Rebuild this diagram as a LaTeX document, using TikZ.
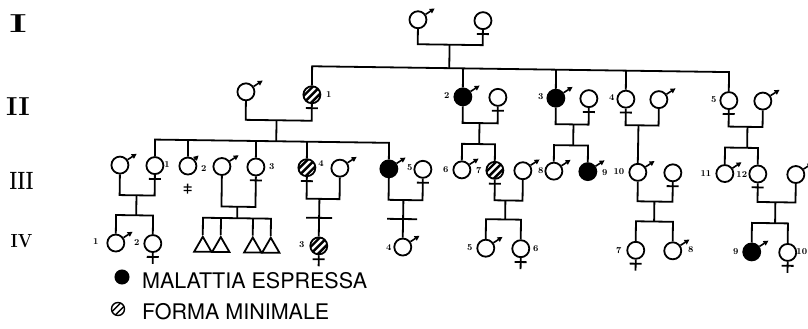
\documentclass[tikz,border=0pt]{standalone}
\usepackage{fontspec}
\newfontfamily\legfont{TeX Gyre Heros}
\usetikzlibrary{arrows.meta,calc,shapes.geometric}
\begin{document}
\begin{tikzpicture}[x=1pt,y=-1pt,
  ln/.style={line width=1.8pt},
  sym/.style={circle, draw, line width=1.8pt, minimum size=17pt, inner sep=0pt, fill=white},
  aff/.style={sym, fill=black},
  mini/.style={sym, path picture={
     \foreach \d in {-3.6,0,3.6}
       \draw[line width=2.4pt, shift={(path picture bounding box.center)}] (-12+\d,12+\d) -- (12+\d,-12+\d);}},
  minil/.style={circle, draw, line width=1.4pt, minimum size=13pt, inner sep=0pt, path picture={
     \foreach \d in {-1.7,1.7}
       \draw[line width=1.4pt, shift={(path picture bounding box.center)}] (-10+\d,10+\d) -- (10+\d,-10+\d);}},
  tri/.style={regular polygon, regular polygon sides=3, draw, line width=1.8pt, minimum size=20pt, inner sep=0pt},
  marrow/.style={line width=1.6pt, -{Triangle[length=5pt,width=5pt]}},
  num/.style={font=\bfseries\fontsize{9}{9}\selectfont, inner sep=0pt},
  gen/.style={font=\bfseries\fontsize{26}{26}\selectfont, inner sep=0pt},
  leg/.style={font=\legfont\fontsize{21.5}{22}\selectfont, anchor=west, inner sep=0pt}
]
\useasboundingbox (0,0) rectangle (808,329);
\clip (0,0) rectangle (808,329);

% generation labels
\node[gen] (gI) at (18,24) {\scalebox{1.6}[1]{I}};
\node[gen] (gII) at (18,107) {\scalebox{1.05}[1]{II}};
\node[gen, font=\bfseries\fontsize{25}{25}\selectfont] (gIII) at (21.5,181) {\scalebox{0.72}[1]{III}};
\node[gen, font=\bfseries\fontsize{19}{19}\selectfont] (gIV) at (21.5,241.5) {\scalebox{0.9}[1]{IV}};

% legend
\node[aff, minimum size=14pt, line width=1pt] (lA) at (122,277) {};
\node[leg] (tA) at (142,280.5) {MALATTIA ESPRESSA};
\node[minil] (lM) at (118,309) {};
\node[leg] (tM) at (142,312) {FORMA MINIMALE};

\begin{scope}[rotate around={-0.8:(400,160)}]
% Gen I
\node[sym] (I1) at (416,19.5) {};
\node[sym] (I2) at (481,19.5) {};
% Gen II
\node[sym] (IIs1) at (245,94) {};
\node[mini] (II1) at (311,96) {};
\node[aff] (II2) at (462,96) {};
\node[sym] (IIs2) at (497,96) {};
\node[aff] (II3) at (555,96) {};
\node[sym] (IIs3) at (588,96) {};
\node[sym] (II4) at (625,96) {};
\node[sym] (IIs4) at (658,96) {};
\node[sym] (II5) at (728,96) {};
\node[sym] (IIs5) at (762,96) {};
% Gen III
\node[sym] (IIIs1) at (120,169) {};
\node[sym] (III1) at (155,169) {};
\node[sym] (III2) at (188,169) {};
\node[sym] (IIIs3) at (222,169) {};
\node[sym] (III3) at (256,169) {};
\node[mini] (III4) at (307,169) {};
\node[sym] (IIIs4) at (340,169) {};
\node[aff] (III5) at (389,169) {};
\node[sym] (IIIs5) at (423,169) {};
\node[sym] (III6) at (462,169) {};
\node[mini] (III7) at (495,169) {};
\node[sym] (IIIs7) at (523,169) {};
\node[sym] (III8) at (554,169) {};
\node[aff] (III9) at (588,169) {};
\node[sym] (III10) at (638,169) {};
\node[sym] (IIIs10) at (673,169) {};
\node[sym] (III11) at (725,169) {};
\node[sym] (III12) at (758,169) {};
\node[sym] (IIIs12) at (796,169) {};
% Gen IV
\node[sym] (IV1) at (117,247) {};
\node[sym] (IV2) at (154,247) {};
\node[tri] (T1) at (204,249.5) {};
\node[tri] (T2) at (222,249.5) {};
\node[tri] (T3) at (254,249.5) {};
\node[tri] (T4) at (272,249.5) {};
\node[mini] (IV3) at (320,247) {};
\node[sym] (IV4) at (404,247) {};
\node[sym] (IV5) at (487,247) {};
\node[sym] (IV6) at (522,247) {};
\node[sym] (IV7) at (637,247) {};
\node[sym] (IV8) at (674,247) {};
\node[aff] (IV9) at (753,247) {};
\node[sym] (IV10) at (789,247) {};

% male arrows
\foreach \n in {I1,IIs1,II2,II3,IIs4,IIs5,IIIs1,IIIs3,IIIs4,III5,III6,IIIs7,III8,III9,III10,III11,IIIs12,IV1,IV4,IV5,IV8,IV9}
  \draw[marrow] (\n.35) -- ++(9,-6);
\draw[marrow] (III2.45) -- ++(4,-4);
% female crosses
\foreach \n in {I2,II1,IIs2,IIs3,II4,II5,III1,III3,III4,IIIs5,III7,IIIs10,III12,IV2,IV3,IV6,IV7,IV10}
  \draw[ln] ($(\n.south)+(-6,4)$) -- ++(12,0);
\foreach \n in {IV2,IV3,IV6,IV7,IV10}
  \draw[ln] (\n.south) -- ++(0,11);
% III-2 double cross (detached)
\coordinate (dg) at (188,191.5);
\draw[line width=1.3pt] ($(dg)+(0,-5)$) -- ($(dg)+(0,5)$);
\draw[line width=1.3pt] ($(dg)+(-4,-1.5)$) -- ($(dg)+(4,-1.5)$);
\draw[line width=1.3pt] ($(dg)+(-4,2)$) -- ($(dg)+(4,2)$);

% Gen I family
\coordinate (cI) at (448,44);
\coordinate (sI) at (448,67.5);
\draw[ln] (I1.south) |- (cI) -| (I2.south);
\draw[ln] (cI) -- (sI);
\draw[ln] (II1.north) |- (sI) -| (II5.north);
\foreach \n in {II2,II3,II4} \draw[ln] (\n.north) -- (\n.north |- sI);

% Gen II families
\coordinate (c1) at (276,122); \coordinate (s1) at (276,143);
\draw[ln] (IIs1.south) |- (c1) -| (II1.south);
\draw[ln] (c1) -- (s1);
\draw[ln] (III1.north) |- (s1) -| (III5.north);
\foreach \n in {III2,III3,III4} \draw[ln] (\n.north) -- (\n.north |- s1);

\coordinate (c2) at (479,122); \coordinate (s2) at (479,143);
\draw[ln] (II2.south) |- (c2) -| (IIs2.south);
\draw[ln] (c2) -- (s2);
\draw[ln] (III6.north) |- (s2) -| (III7.north);

\coordinate (c3) at (573,122); \coordinate (s3) at (573,143);
\draw[ln] (II3.south) |- (c3) -| (IIs3.south);
\draw[ln] (c3) -- (s3);
\draw[ln] (III8.north) |- (s3) -| (III9.north);

\coordinate (c4) at (638,122);
\draw[ln] (II4.south) |- (c4) -| (IIs4.south);
\draw[ln] (c4) -- (III10.north);

\coordinate (c5) at (747,122); \coordinate (s5) at (747,143);
\draw[ln] (II5.south) |- (c5) -| (IIs5.south);
\draw[ln] (c5) -- (s5);
\draw[ln] (III11.north) |- (s5) -| (III12.north);

% Gen III families
\coordinate (d1) at (137,199); \coordinate (e1) at (137,219);
\draw[ln] (IIIs1.south) |- (d1) -| (III1.south);
\draw[ln] (d1) -- (e1);
\draw[ln] (IV1.north) |- (e1) -| (IV2.north);

\coordinate (d3) at (238,209); \coordinate (e3) at (238,220.5);
\draw[ln] (IIIs3.south) |- (d3) -| (III3.south);
\draw[ln] (d3) -- (e3);
\draw[ln] (T1.north) |- (e3) -| (T4.north);
\foreach \n in {T2,T3} \draw[ln] (\n.north) -- (\n.north |- e3);

\coordinate (d4) at (320,200);
\draw[ln] (III4.south) |- (d4) -| (IIIs4.south);
\draw[ln] (d4) -- (IV3.north);
\coordinate (x4a) at (307,219); \coordinate (x4b) at (333,219);
\draw[ln] (x4a) -- (x4b);

\coordinate (d5) at (404,200);
\draw[ln] (III5.south) |- (d5) -| (IIIs5.south);
\draw[ln] (d5) -- (IV4.north);
\coordinate (x5a) at (388,219); \coordinate (x5b) at (418,219);
\draw[ln] (x5a) -- (x5b);

\coordinate (d7) at (506,199); \coordinate (e7) at (506,218);
\draw[ln] (III7.south) |- (d7) -| (IIIs7.south);
\draw[ln] (d7) -- (e7);
\draw[ln] (IV5.north) |- (e7) -| (IV6.north);

\coordinate (d10) at (655,198); \coordinate (e10) at (655,218);
\draw[ln] (III10.south) |- (d10) -| (IIIs10.south);
\draw[ln] (d10) -- (e10);
\draw[ln] (IV7.north) |- (e10) -| (IV8.north);

\coordinate (d12) at (776,197); \coordinate (e12) at (776,218);
\draw[ln] (III12.south) |- (d12) -| (IIIs12.south);
\draw[ln] (d12) -- (e12);
\draw[ln] (IV9.north) |- (e12) -| (IV10.north);

% number labels
\node[num] (n21) at (328,96) {1};
\node[num] (n22) at (446,95) {2};
\node[num] (n23) at (540,95) {3};
\node[num] (n24) at (611,95) {4};
\node[num] (n25) at (713,95) {5};
\node[num] (n31) at (167,168) {1};
\node[num] (n32) at (204,171) {2};
\node[num] (n33) at (272,168) {3};
\node[num] (n34) at (321,165) {4};
\node[num] (n35) at (410,167) {5};
\node[num] (n36) at (446,169) {6};
\node[num] (n37) at (479,169) {7};
\node[num] (n38) at (541,169) {8};
\node[num] (n39) at (605,170) {9};
\node[num] (n310) at (619,169) {10};
\node[num] (n311) at (706,169) {11};
\node[num] (n312) at (742,170) {12};
\node[num] (n41) at (97,246) {1};
\node[num] (n42) at (138,246) {2};
\node[num] (n43) at (303,246) {3};
\node[num] (n44) at (390,248) {4};
\node[num] (n45) at (471,247) {5};
\node[num] (n46) at (537,247) {6};
\node[num] (n47) at (620,247) {7};
\node[num] (n48) at (692,246) {8};
\node[num] (n49) at (737,247) {9};
\node[num, anchor=west] (n410) at (797.5,246) {10};
\end{scope}
\end{tikzpicture}
\end{document}
